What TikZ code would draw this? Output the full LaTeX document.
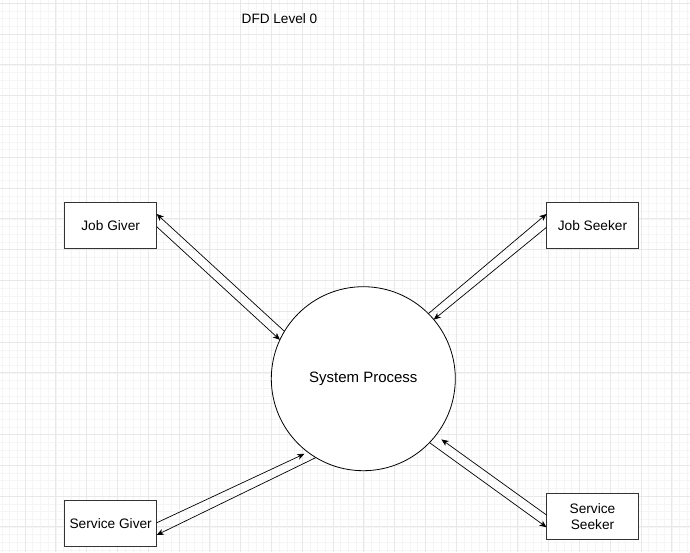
\documentclass[tikz,border=0pt]{standalone}
\usepackage{fontspec}
\setmainfont{Liberation Sans}
\usetikzlibrary{arrows.meta}
\definecolor{gridmajor}{HTML}{E8E8E8}
\definecolor{gridminor}{HTML}{F5F5F5}
\definecolor{boxline}{HTML}{333333}
\begin{document}
\begin{tikzpicture}[x=1pt,y=-1pt,
  minorline/.style={draw=gridminor, line width=0.5pt},
  majorline/.style={draw=gridmajor, line width=0.9pt},
  ent/.style={draw=boxline, line width=0.9pt, fill=white, minimum width=92pt, minimum height=46pt, inner sep=0pt, outer sep=0pt, font=\fontsize{13.7}{16}\selectfont, align=center},
  proc/.style={circle, draw=black, line width=0.8pt, fill=white, minimum size=184pt, inner sep=0pt, outer sep=0pt, font=\fontsize{15}{18}\selectfont},
  flow/.style={draw=black, line width=0.7pt, -{Stealth[length=7pt,width=6pt,inset=2pt]}},
  titletext/.style={font=\fontsize{13.6}{16}\selectfont, inner sep=0pt}
]
\useasboundingbox (0,0) rectangle (690,552);
\fill[white] (0,0) rectangle (690,552);
% grid
\foreach \i in {-3,...,86} {\draw[minorline] ({25+7.7*\i},0) -- ({25+7.7*\i},552);}
\foreach \j in {0,...,71} {\draw[minorline] (0,{3.3+7.7*\j}) -- (690,{3.3+7.7*\j});}
\foreach \i in {0,...,22} {\draw[majorline] ({25+30.8*\i},0) -- ({25+30.8*\i},552);}
\foreach \j in {0,...,17} {\draw[majorline] (0,{3.3+30.8*\j}) -- (690,{3.3+30.8*\j});}

\node[titletext] (title) at (279.5,19) {DFD Level 0};

\node[ent] (jg) at (110.7,225.7) {Job Giver};
\node[ent] (js) at (592.5,225.5) {Job Seeker};
\node[ent] (sg) at (110.7,523.8) {Service Giver};
\node[ent] (ss) at (592.5,516.2) {Service\\Seeker};
\node[proc] (sp) at (363.3,378.7) {System Process};

\draw[flow] (sp.149) -- ([yshift=11.7pt]jg.east);
\draw[flow] ([yshift=-1pt]jg.east) -- (sp.155);
\draw[flow] (sp.45) -- ([yshift=11.5pt]js.west);
\draw[flow] ([yshift=-1.8pt]js.west) -- (sp.40);
\draw[flow, shorten >=4pt] ([yshift=1pt]sg.east) -- (sp.233);
\draw[flow] (sp.239) -- ([yshift=-11.2pt]sg.east);
\draw[flow] (sp.316) -- ([yshift=-11pt]ss.west);
\draw[flow, shorten >=7pt] ([yshift=1.2pt]ss.west) -- (sp.322);
\end{tikzpicture}
\end{document}
